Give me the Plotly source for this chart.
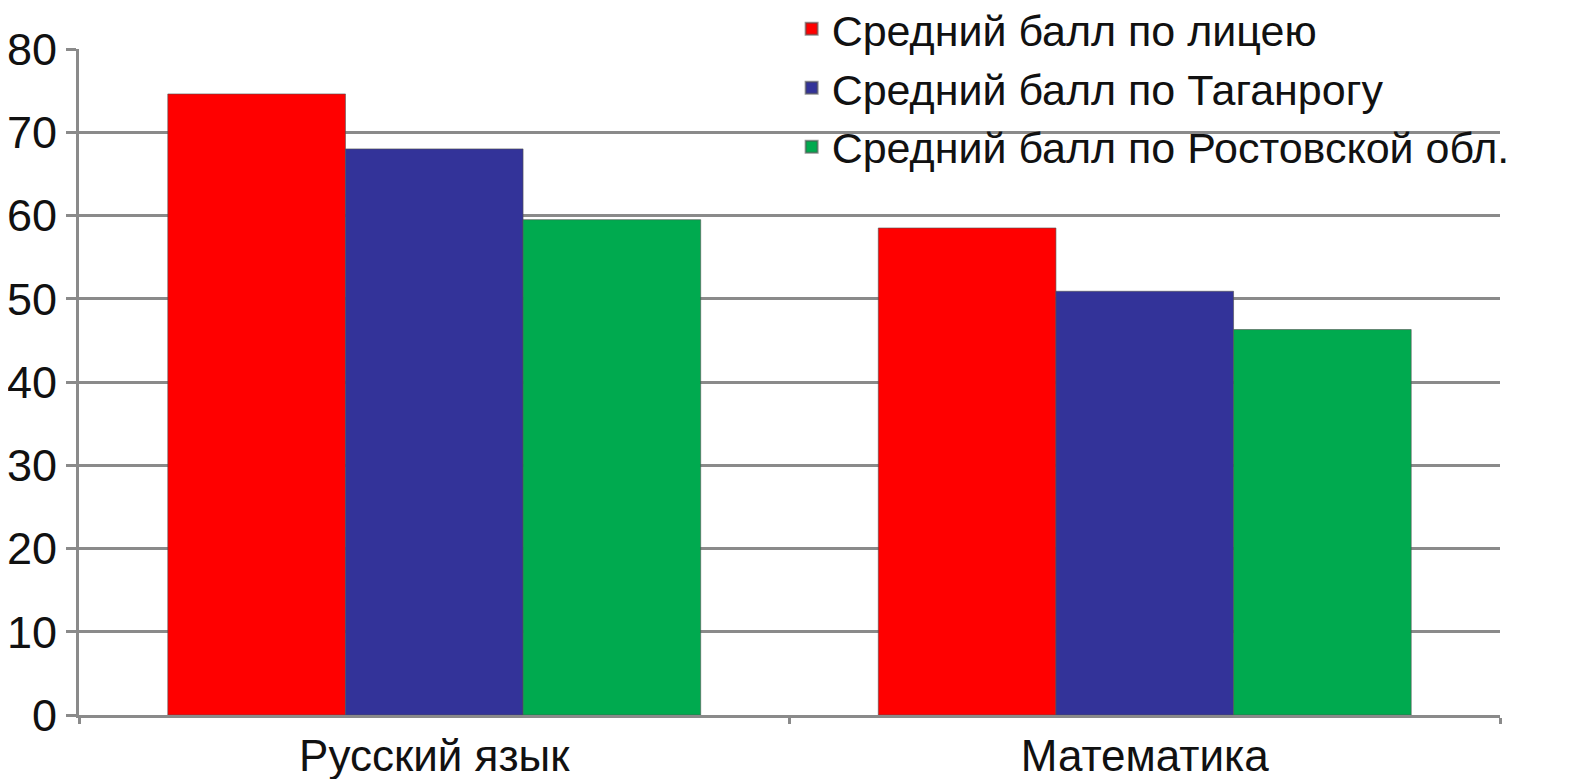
import plotly.graph_objects as go

categories = ["Русский язык", "Математика"]
series_names = ["Средний балл по лицею", "Средний балл по Таганрогу", "Средний балл по Ростовской обл."]
lyceum = [74.6, 58.5]
taganrog = [68.0, 50.9]
rostov = [59.5, 46.3]
colors = ["#FF0000", "#333399", "#00AA4F"]
y_ticks = [0, 10, 20, 30, 40, 50, 60, 70, 80]

fig = go.Figure()
for name, vals, col in zip(series_names, [lyceum, taganrog, rostov], colors):
    fig.add_trace(go.Bar(x=categories, y=vals, name=name, marker_color=col,
                         marker_line_color="rgba(80,80,80,0.6)", marker_line_width=1))

font_family = "Liberation Sans, Arial, sans-serif"
grid_col = "#8a8a8a"
fig.update_layout(
    width=1586, height=771,
    margin=dict(l=71, r=94, t=41, b=64, autoexpand=False),
    paper_bgcolor="white", plot_bgcolor="white",
    barmode="group", bargap=0.25, bargroupgap=0,
    font=dict(family=font_family, color="#111111", size=44),
    legend=dict(x=0.5015, xanchor="left", y=1.082, yanchor="top",
                bgcolor="rgba(0,0,0,0)", font=dict(size=43, family=font_family),
                itemsizing="constant", tracegroupgap=0),
    showlegend=True,
)
fig.update_xaxes(showline=True, linecolor=grid_col, linewidth=3,
                 ticks="outside", tickson="boundaries", ticklen=6, tickcolor=grid_col, tickwidth=3,
                 tickfont=dict(size=44), showgrid=False)
fig.update_yaxes(range=[0, 80], tickvals=y_ticks, showgrid=True, gridcolor=grid_col, gridwidth=3,
                 showline=True, linecolor=grid_col, linewidth=3, ticks="outside", ticklen=10,
                 tickcolor=grid_col, tickwidth=3, tickfont=dict(size=45),
                 zeroline=False)
fig.write_html("out.html")
